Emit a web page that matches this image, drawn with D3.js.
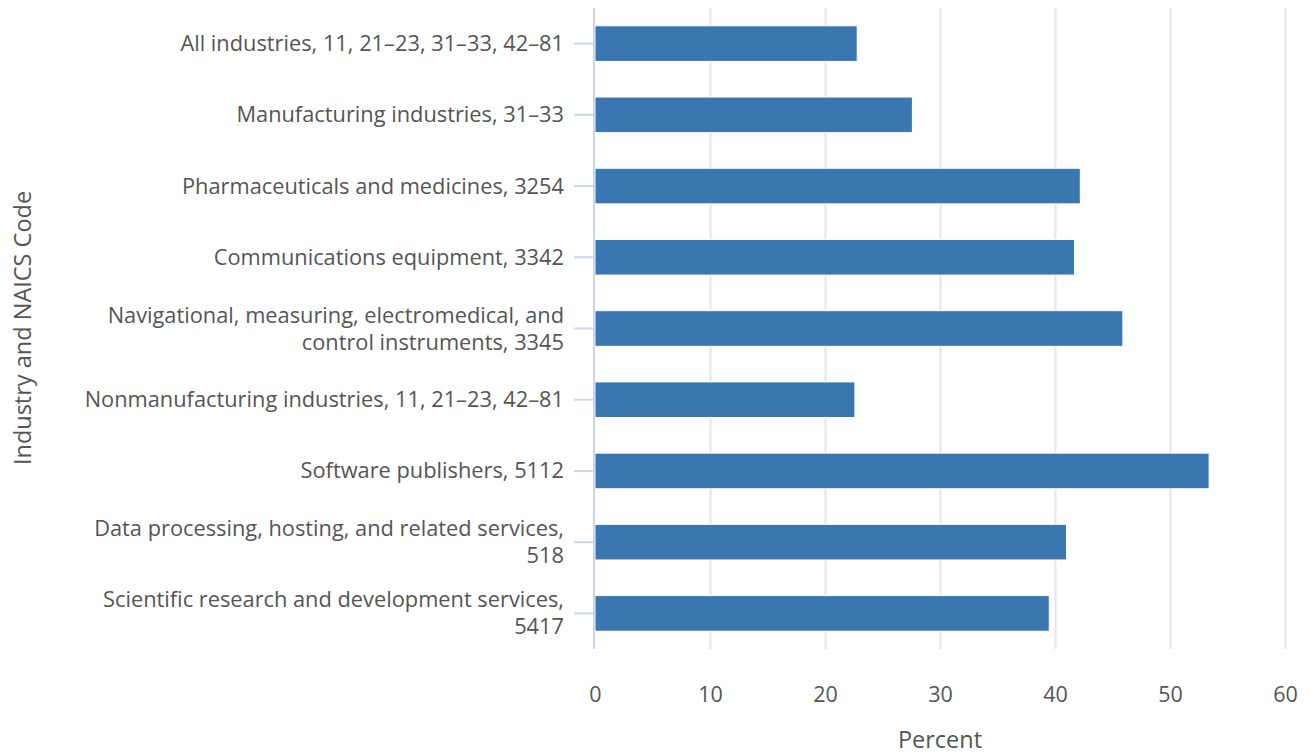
<!DOCTYPE html>
<html>
<head>
<meta charset="utf-8">
<script src="https://cdn.jsdelivr.net/npm/d3@7"></script>
<style>
  html, body { margin: 0; padding: 0; background: #fff; }
  svg { display: block; font-family: "Open Sans", sans-serif; }
</style>
</head>
<body>
<svg id="chart" width="1309" height="754"></svg>
<script>
const categories = [
  "All industries, 11, 21–23, 31–33, 42–81",
  "Manufacturing industries, 31–33",
  "Pharmaceuticals and medicines, 3254",
  "Communications equipment, 3342",
  "Navigational, measuring, electromedical, and control instruments, 3345",
  "Nonmanufacturing industries, 11, 21–23, 42–81",
  "Software publishers, 5112",
  "Data processing, hosting, and related services, 518",
  "Scientific research and development services, 5417"
];
const values = [22.8, 27.6, 42.2, 41.7, 45.9, 22.6, 53.4, 41.0, 39.5];
const xTicks = [0, 10, 20, 30, 40, 50, 60];
const xTitle = "Percent";
const yTitle = "Industry and NAICS Code";

const svg = d3.select("#chart");
const margin = { left: 595, right: 24, top: 8, bottom: 105 };
const W = 1309, H = 754;

const x = d3.scaleLinear().domain([0, 60]).range([margin.left, W - margin.right]);
const y = d3.scaleBand().domain(categories).range([margin.top, H - margin.bottom]).paddingInner(0.5).paddingOuter(0.25);

// gridlines
svg.append("g").selectAll("line").data(xTicks.filter(d => d > 0)).join("line")
  .attr("x1", d => x(d) + 0.5).attr("x2", d => x(d) + 0.5)
  .attr("y1", margin.top).attr("y2", H - margin.bottom)
  .attr("stroke", "#e6e6e6").attr("stroke-width", 2);

// bars
svg.append("g").selectAll("rect").data(categories).join("rect")
  .attr("x", x(0))
  .attr("y", d => y(d))
  .attr("width", (d, i) => x(values[i]) - x(0))
  .attr("height", y.bandwidth())
  .attr("fill", "#3a77b0")
  .attr("stroke", "#ffffff").attr("stroke-width", 1);

// x axis (labels only)
const xAxis = d3.axisBottom(x).tickValues(xTicks).tickSize(0).tickPadding(0).tickFormat(d3.format("d"));
const gx = svg.append("g").attr("transform", `translate(0, ${H - margin.bottom})`).call(xAxis);
gx.select(".domain").remove();
gx.selectAll("text").attr("font-size", 21.5).attr("fill", "#555").attr("font-family", "Open Sans").attr("dy", null).attr("y", 53);

// y axis
const yAxis = d3.axisLeft(y).tickSize(20).tickPadding(10);
const gy = svg.append("g").attr("transform", `translate(${x(0) - 1}, 0)`).call(yAxis);
gy.select(".domain").attr("stroke", "#ccd6eb").attr("stroke-width", 2)
  .attr("d", `M0,${margin.top}V${H - margin.bottom}`);
gy.selectAll(".tick line").attr("stroke", "#ccd6eb").attr("stroke-width", 2);
gy.selectAll(".tick text").attr("font-size", 21.8).attr("fill", "#555").attr("font-family", "Open Sans");

// wrap labels
const maxW = 495;
gy.selectAll(".tick text").each(function(d) {
  const t = d3.select(this);
  const words = d.split(" ");
  t.text(null);
  const lines = [];
  let cur = [];
  const probe = t.append("tspan");
  words.forEach(w => {
    const test = cur.concat([w]).join(" ");
    probe.text(test);
    if (probe.node().getComputedTextLength() > maxW && cur.length) {
      lines.push(cur.join(" "));
      cur = [w];
    } else cur.push(w);
  });
  lines.push(cur.join(" "));
  probe.remove();
  const lh = 27;
  const startDy = -(lines.length - 1) * lh / 2;
  lines.forEach((ln, i) => {
    t.append("tspan").attr("x", -30).attr("y", 0)
      .attr("dy", (startDy + i * lh + 7.5) + "px")
      .text(ln);
  });
});

// titles
svg.append("text").attr("x", 940).attr("y", 748).attr("text-anchor", "middle")
  .attr("font-size", 23.5).attr("fill", "#555").text(xTitle);
svg.append("text").attr("transform", `translate(31, ${328}) rotate(-90)`).attr("text-anchor", "middle")
  .attr("font-size", 23.5).attr("fill", "#555").text(yTitle);
</script>
</body>
</html>
